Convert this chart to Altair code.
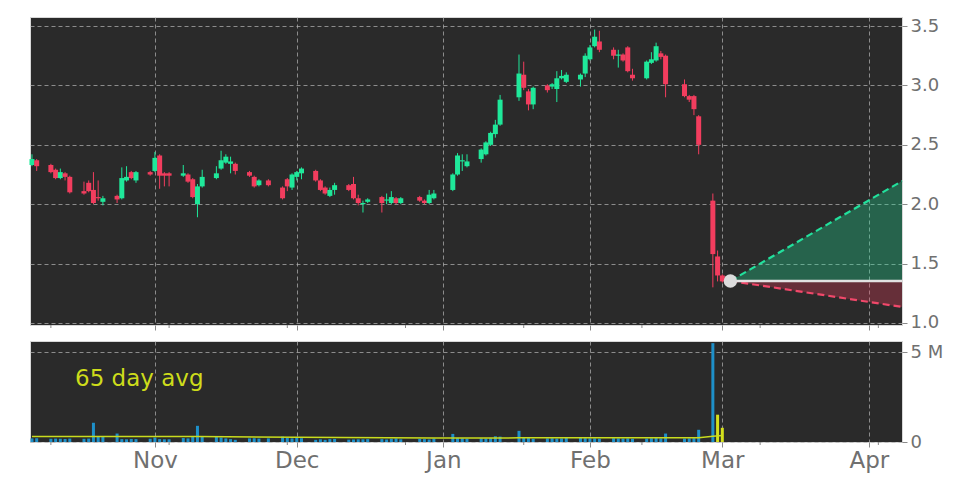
import altair as alt
import pandas as pd

# ---------------- data ----------------
dates = [
    "2022-10-06","2022-10-07","2022-10-10","2022-10-11","2022-10-12","2022-10-13","2022-10-14",
    "2022-10-17","2022-10-18","2022-10-19","2022-10-20","2022-10-21","2022-10-24","2022-10-25",
    "2022-10-26","2022-10-27","2022-10-28","2022-10-31",
    "2022-11-01","2022-11-02","2022-11-03","2022-11-04","2022-11-07","2022-11-08","2022-11-09",
    "2022-11-10","2022-11-11","2022-11-14","2022-11-15","2022-11-16","2022-11-17","2022-11-18",
    "2022-11-21","2022-11-22","2022-11-23","2022-11-25","2022-11-28","2022-11-29","2022-11-30",
    "2022-12-01","2022-12-02","2022-12-05","2022-12-06","2022-12-07","2022-12-08","2022-12-09",
    "2022-12-12","2022-12-13","2022-12-14","2022-12-15","2022-12-16","2022-12-19","2022-12-20",
    "2022-12-21","2022-12-22","2022-12-23","2022-12-27","2022-12-28","2022-12-29","2022-12-30",
    "2023-01-03","2023-01-04","2023-01-05","2023-01-06","2023-01-09","2023-01-10","2023-01-11",
    "2023-01-12","2023-01-13","2023-01-17","2023-01-18","2023-01-19","2023-01-20","2023-01-23",
    "2023-01-24","2023-01-25","2023-01-26","2023-01-27","2023-01-30","2023-01-31",
    "2023-02-01","2023-02-02","2023-02-03","2023-02-06","2023-02-07","2023-02-08","2023-02-09",
    "2023-02-10","2023-02-13","2023-02-14","2023-02-15","2023-02-16","2023-02-17","2023-02-21",
    "2023-02-22","2023-02-23","2023-02-24","2023-02-27","2023-02-28",
    "2023-03-01",
]
opens = [
    2.33,2.37,2.33,2.29,2.22,2.26,2.23,2.11,2.18,2.12,2.06,2.02,2.07,2.05,2.20,2.27,2.20,2.27,
    2.28,2.41,2.26,2.26,2.24,2.25,2.21,2.00,2.15,2.22,2.30,2.35,2.34,2.34,2.27,2.23,2.16,2.20,2.14,2.21,2.14,
    2.23,2.26,2.28,2.20,2.14,2.07,2.12,2.16,2.17,2.05,2.00,2.02,2.06,2.03,2.01,2.05,2.01,2.06,2.03,2.01,2.05,
    2.12,2.25,2.36,2.32,2.38,2.42,2.50,2.59,2.67,2.90,3.09,2.95,2.84,3.00,2.99,2.97,3.06,3.03,3.05,3.10,
    3.22,3.33,3.37,3.30,3.25,3.26,3.32,3.09,3.06,3.19,3.21,3.27,3.25,3.01,2.91,2.91,2.74,2.03,1.56,
    1.40,
]
closes = [
    2.38,2.32,2.27,2.22,2.27,2.23,2.10,2.09,2.11,2.01,2.05,2.05,2.04,2.22,2.23,2.22,2.27,2.25,
    2.39,2.24,2.24,2.24,2.26,2.19,2.06,2.15,2.23,2.26,2.37,2.40,2.36,2.28,2.24,2.15,2.20,2.16,2.05,2.15,2.25,
    2.27,2.30,2.20,2.12,2.09,2.12,2.16,2.12,2.05,2.01,2.01,2.04,2.01,2.04,2.06,2.01,2.05,2.03,2.01,2.08,2.09,
    2.25,2.41,2.37,2.36,2.46,2.52,2.60,2.67,2.88,3.10,2.98,2.84,2.98,2.96,3.01,3.06,3.08,3.09,3.09,3.25,
    3.32,3.41,3.30,3.25,3.26,3.21,3.12,3.06,3.20,3.22,3.33,3.24,3.01,2.91,2.88,2.80,2.50,1.58,1.40,
    1.35,
]
highs = [
    2.42,2.38,2.34,2.30,2.30,2.27,2.24,2.19,2.20,2.27,2.20,2.07,2.08,2.31,2.32,2.28,2.28,2.28,
    2.44,2.42,2.27,2.27,2.33,2.26,2.22,2.17,2.29,2.32,2.45,2.42,2.40,2.35,2.28,2.24,2.21,2.21,2.15,2.22,2.26,
    2.28,2.31,2.29,2.21,2.15,2.14,2.18,2.17,2.23,2.08,2.03,2.05,2.07,2.09,2.11,2.06,2.06,2.07,2.04,2.12,2.12,
    2.26,2.43,2.42,2.42,2.47,2.53,2.61,2.71,2.92,3.26,3.20,2.97,2.99,3.01,3.02,3.12,3.13,3.11,3.10,3.27,
    3.34,3.47,3.46,3.32,3.30,3.27,3.33,3.14,3.21,3.28,3.36,3.29,3.26,3.05,2.92,2.92,2.75,2.09,1.61,
    1.41,
]
lows = [
    2.32,2.28,2.26,2.21,2.21,2.20,2.09,2.08,2.10,2.00,2.03,1.99,2.01,2.04,2.19,2.21,2.18,2.24,
    2.27,2.13,2.15,2.15,2.23,2.18,2.05,1.89,2.14,2.21,2.29,2.34,2.26,2.25,2.23,2.14,2.15,2.15,2.04,2.11,2.12,
    2.20,2.21,2.19,2.11,2.08,2.06,2.08,2.11,2.04,1.99,1.93,2.01,1.93,2.00,2.00,2.00,2.00,2.02,2.00,2.00,2.04,
    2.11,2.24,2.28,2.31,2.35,2.41,2.49,2.56,2.66,2.87,2.96,2.79,2.80,2.94,2.97,2.86,3.05,3.02,2.99,3.07,
    3.21,3.32,3.28,3.22,3.15,3.20,3.11,3.04,3.05,3.18,3.20,3.22,2.90,2.90,2.86,2.75,2.42,1.30,1.35,
    1.34,
]
volumes = [
    200,210,180,190,180,170,190,180,190,1070,320,330,470,160,150,170,160,180,
    250,160,150,150,220,200,280,900,280,300,250,200,160,120,200,210,190,200,300,220,200,
    230,210,120,150,120,160,170,130,140,150,150,160,160,140,180,200,150,170,160,140,190,
    450,230,200,180,200,190,210,320,300,620,230,220,180,200,210,190,200,230,220,210,
    200,200,180,210,200,190,200,180,190,210,220,200,470,190,200,210,680,5500,1520,
    790,
]  # thousands of shares
recent_bars = 2  # last bars drawn in the highlight colour

avg_dates = ["2022-10-06","2022-10-19","2022-11-10","2022-12-01","2022-12-30",
             "2023-01-17","2023-02-01","2023-02-24","2023-02-27","2023-03-01"]
avg_values = [300, 310, 300, 260, 220, 230, 230, 230, 320, 360]  # thousands

proj_dates = ["2023-03-02T17:00:00Z", "2023-04-08T00:00:00Z"]
proj_upper = [1.354, 2.195]
proj_mid = [1.354, 1.354]
proj_lower = [1.354, 1.135]

minor_tick_dates = ["2022-10-10","2022-11-04","2022-11-29","2022-12-24",
                    "2023-01-18","2023-02-12","2023-03-09","2023-04-03"]

price_ticks = [1.0, 1.5, 2.0, 2.5, 3.0, 3.5]
volume_ticks = [0, 5000000]

# ---------------- frames ----------------
candles = pd.DataFrame({
    "date": dates, "open": opens, "close": closes, "high": highs, "low": lows,
    "dir": ["up" if c >= o else "down" for o, c in zip(opens, closes)],
})
vol = pd.DataFrame({
    "date": dates,
    "volume": [v * 1000 for v in volumes],
    "kind": ["recent" if i >= len(volumes) - recent_bars else "normal" for i in range(len(volumes))],
})
avg = pd.DataFrame({"date": avg_dates, "avg": [v * 1000 for v in avg_values]})
proj = pd.DataFrame({"date": proj_dates, "upper": proj_upper, "mid": proj_mid, "lower": proj_lower})
minor = pd.DataFrame({"date": minor_tick_dates})

GREEN = "#1fe89a"
RED = "#f23d5e"
LABEL = "#707070"
FONT = "DejaVu Sans"

x_domain = [alt.DateTime(year=2022, month=10, date=5, hours=14, utc=True),
            alt.DateTime(year=2023, month=4, date=8, hours=0, utc=True)]
month_vals = [alt.DateTime(year=2022, month=11, date=1, utc=True),
              alt.DateTime(year=2022, month=12, date=1, utc=True),
              alt.DateTime(year=2023, month=1, date=1, utc=True),
              alt.DateTime(year=2023, month=2, date=1, utc=True),
              alt.DateTime(year=2023, month=3, date=1, utc=True),
              alt.DateTime(year=2023, month=4, date=1, utc=True)]
xscale = alt.Scale(type="utc", domain=x_domain, padding=0)

W = 872
H_PRICE = 308
H_VOL = 101

x_price = alt.X("date:T", scale=xscale, title=None,
                axis=alt.Axis(values=month_vals, labels=False, ticks=True, tickSize=5,
                              grid=True, domain=False))
y_price = alt.Y("low:Q", scale=alt.Scale(domain=[0.983, 3.576], nice=False, zero=False, padding=0),
                title=None,
                axis=alt.Axis(orient="right", values=price_ticks, format=".1f", grid=True,
                              domain=False, tickSize=5))
color_dir = alt.Color("dir:N", scale=alt.Scale(domain=["up", "down"], range=[GREEN, RED]), legend=None)

wicks = alt.Chart(candles).mark_rule(strokeWidth=1).encode(
    x=x_price, y=y_price, y2="high:Q", color=color_dir)
bodies = alt.Chart(candles).mark_bar(size=5).encode(
    x="date:T", y="open:Q", y2="close:Q", color=color_dir)

area_up = alt.Chart(proj).mark_area(color=GREEN, opacity=0.3).encode(
    x="date:T", y="upper:Q", y2="mid:Q")
area_dn = alt.Chart(proj).mark_area(color=RED, opacity=0.3).encode(
    x="date:T", y="mid:Q", y2="lower:Q")
line_up = alt.Chart(proj).mark_line(color="#22e09c", strokeWidth=2.2, strokeDash=[7, 4]).encode(
    x="date:T", y="upper:Q")
line_dn = alt.Chart(proj).mark_line(color="#f0486a", strokeWidth=2.2, strokeDash=[7, 4]).encode(
    x="date:T", y="lower:Q")
line_mid = alt.Chart(proj).mark_line(color="#e2e2e2", strokeWidth=2.5).encode(
    x="date:T", y="mid:Q")
dot = alt.Chart(proj.iloc[:1]).mark_circle(color="#dcdcdc", size=180, opacity=1).encode(
    x="date:T", y="mid:Q")
minor_price = alt.Chart(minor).mark_rule(color="#888888", strokeWidth=1).encode(
    x="date:T", y=alt.value(H_PRICE), y2=alt.value(H_PRICE + 3))

price = alt.layer(wicks, bodies, area_up, area_dn, line_up, line_dn, line_mid, dot, minor_price
                  ).properties(width=W, height=H_PRICE)

# ---- volume ----
x_vol = alt.X("date:T", scale=xscale, title=None,
              axis=alt.Axis(values=month_vals, labelExpr="utcFormat(datum.value, '%b')",
                            tickSize=5, grid=True, domain=False, labelFontSize=23, labelPadding=2))
bars = alt.Chart(vol).mark_bar(size=3).encode(
    x=x_vol,
    y=alt.Y("volume:Q", scale=alt.Scale(domain=[0, 5620000], nice=False, padding=0), title=None,
            axis=alt.Axis(orient="right", values=volume_ticks,
                          labelExpr="datum.value == 0 ? '0' : '5 M'", grid=True,
                          domain=False, tickSize=5)),
    color=alt.Color("kind:N", scale=alt.Scale(domain=["normal", "recent"],
                                              range=["#1e90c9", "#d4e01c"]), legend=None),
)
avg_line = alt.Chart(avg).mark_line(color="#c9dc1e", strokeWidth=1.5).encode(
    x="date:T", y="avg:Q")
avg_label = alt.Chart(pd.DataFrame({"t": ["65 day avg"]})).mark_text(
    align="left", baseline="middle", fontSize=23, font=FONT, color="#cddc1b").encode(
    text="t:N", x=alt.value(45), y=alt.value(38))
minor_vol = alt.Chart(minor).mark_rule(color="#888888", strokeWidth=1).encode(
    x="date:T", y=alt.value(H_VOL), y2=alt.value(H_VOL + 3))

volume = alt.layer(bars, avg_line, avg_label, minor_vol).properties(width=W, height=H_VOL)

chart = alt.vconcat(price, volume, spacing=16, bounds="flush").resolve_scale(
    color="independent"
).properties(
    padding={"left": 20, "top": 8, "right": 5, "bottom": 5},
    background="white",
).configure_view(
    fill="#2a2a2a", stroke="#d8d8d8", strokeWidth=1,
).configure_axis(
    gridColor="#b4b4b4", gridDash=[4, 3], gridWidth=0.8, gridOpacity=0.9,
    tickColor="#8a8a8a", labelColor=LABEL, labelFont=FONT, labelFontSize=18,
    labelPadding=3,
)

chart.save("out.html", embed_options={"renderer": "svg", "actions": False})
